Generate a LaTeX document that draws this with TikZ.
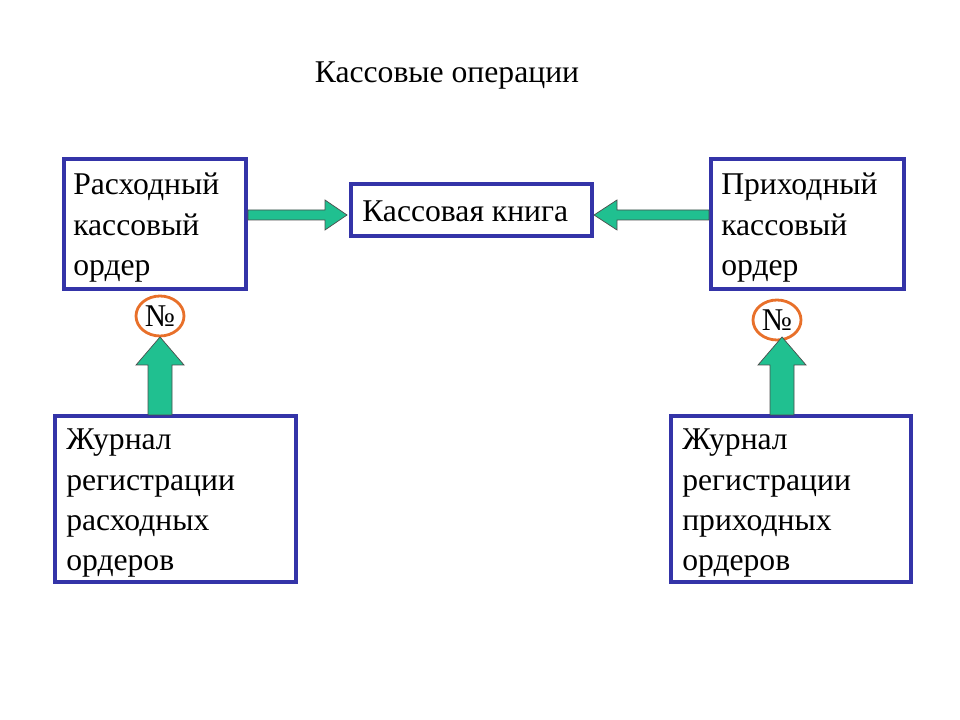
\documentclass[tikz,border=0pt]{standalone}
\usepackage{fontspec}
\setmainfont{Liberation Serif}
\usetikzlibrary{calc}
\definecolor{bx}{HTML}{3434A8}
\definecolor{ar}{HTML}{20C090}
\definecolor{ring}{HTML}{E8702A}
\begin{document}
\begin{tikzpicture}[x=0.025cm,y=-0.025cm,
  box/.style={draw=bx,line width=2.2pt,fill=white},
  txt/.style={align=left,anchor=north west,inner sep=0pt,font=\fontsize{22.5}{28.5}\selectfont},
  big/.style={font=\fontsize{22.5}{26}\selectfont},
  barrow/.style={fill=ar,draw=black!70,line width=0.5pt}]
\useasboundingbox (0,0) rectangle (960,720);
\node[big] (title) at (447,76) {Кассовые операции};
\draw[box] (64,159) rectangle (246,289);
\node[txt] (ro) at (73,173) {Расходный\\кассовый\\ордер};
\draw[box] (351,184) rectangle (592,236);
\node[big,anchor=west,inner sep=0pt] (kk) at (362,211) {Кассовая книга};
\draw[box] (711,159) rectangle (904,289);
\node[txt] (po) at (721,173) {Приходный\\кассовый\\ордер};
\draw[box] (55,416) rectangle (296,582);
\node[txt] (jr) at (66,429) {Журнал\\регистрации\\расходных\\ордеров};
\draw[box] (671,416) rectangle (911,582);
\node[txt] (jp) at (682,429) {Журнал\\регистрации\\приходных\\ордеров};
% number rings
\draw[ring,line width=2pt,fill=white] (160,316) ellipse (24 and 20);
\node[big] (n1) at (160,316) {№};
\draw[ring,line width=2pt,fill=white] (777,320) ellipse (24 and 20);
\node[big] (n2) at (777,320) {№};
% horizontal arrows
\draw[barrow] (248,210)--(325,210)--(325,200)--(347,215)--(325,230)--(325,220)--(248,220)--cycle;
\draw[barrow] (709,210)--(617,210)--(617,200)--(594,215)--(617,230)--(617,220)--(709,220)--cycle;
% vertical arrows
\draw[barrow] (148,415)--(148,365)--(136,365)--(160,337)--(184,365)--(172,365)--(172,415)--cycle;
\draw[barrow] (770,415)--(770,365)--(758,365)--(782,337)--(806,365)--(794,365)--(794,415)--cycle;
\end{tikzpicture}
\end{document}
